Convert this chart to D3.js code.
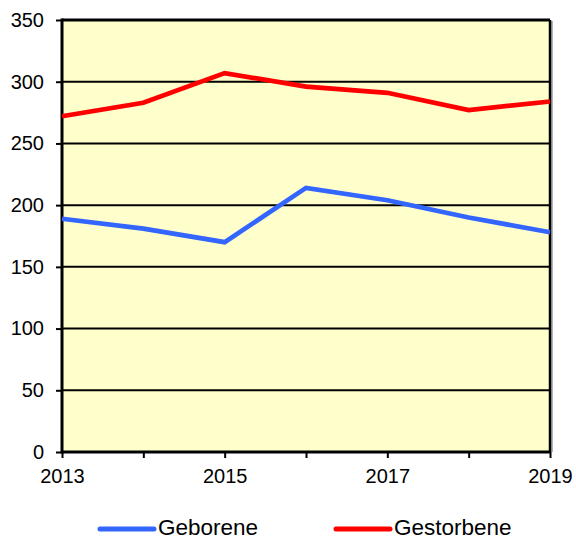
<!DOCTYPE html>
<html>
<head>
<meta charset="utf-8">
<script src="https://cdn.jsdelivr.net/npm/d3@7"></script>
<style>
  body { margin: 0; background: #fff; }
  svg { display: block; font-family: 'Liberation Sans', Arial, sans-serif; }
</style>
</head>
<body>
<div id="chart"></div>
<script>
const years = [2013, 2014, 2015, 2016, 2017, 2018, 2019]
const geborene = [189, 181, 170, 214, 204, 190, 178]
const gestorbene = [272, 283, 307, 296, 291, 277, 284]
const yTicks = [0, 50, 100, 150, 200, 250, 300, 350]
const xLabels = [2013, 2015, 2017, 2019]

const MARGIN = { TOP: 20, BOTTOM: 88, LEFT: 62, RIGHT: 26 }
const W = 576, H = 540
const WIDTH = W - MARGIN.LEFT - MARGIN.RIGHT
const HEIGHT = H - MARGIN.TOP - MARGIN.BOTTOM

const series = [
    { name: 'Geborene', values: geborene, color: '#3366ff' },
    { name: 'Gestorbene', values: gestorbene, color: '#ff0000' },
]

const svg = d3.select('#chart').append('svg')
    .attr('width', W)
    .attr('height', H)

const g = svg.append('g')
    .attr('transform', `translate(${MARGIN.LEFT}, ${MARGIN.TOP})`)

const x = d3.scaleLinear().domain([2013, 2019]).range([0, WIDTH])
const y = d3.scaleLinear().domain([0, 350]).range([HEIGHT, 0])

// plot background
g.append('rect')
    .attr('width', WIDTH)
    .attr('height', HEIGHT)
    .attr('fill', '#ffffcc')

// right edge shadow
g.append('line')
    .attr('x1', WIDTH + 2).attr('x2', WIDTH + 2)
    .attr('y1', 1).attr('y2', HEIGHT)
    .attr('stroke', '#999').attr('stroke-width', 1.5)

// horizontal gridlines
g.append('g')
    .selectAll('line')
    .data(yTicks.filter(d => d > 0))
    .enter().append('line')
    .attr('x1', 0).attr('x2', WIDTH)
    .attr('y1', d => y(d)).attr('y2', d => y(d))
    .attr('stroke', '#000')
    .attr('stroke-width', d => d === 350 ? 3 : 2)

// right border
g.append('line')
    .attr('x1', WIDTH).attr('x2', WIDTH)
    .attr('y1', 0).attr('y2', HEIGHT)
    .attr('stroke', '#000').attr('stroke-width', 2.5)

// axes
const yAxis = g.append('g')
    .call(d3.axisLeft(y).tickValues(yTicks).tickSize(6).tickPadding(12))
const xAxis = g.append('g')
    .attr('transform', `translate(0, ${HEIGHT})`)
    .call(d3.axisBottom(x).tickValues(years).tickSize(6).tickPadding(11)
        .tickFormat(d => xLabels.includes(d) ? d : ''))

for (const ax of [yAxis, xAxis]) {
    ax.select('.domain').remove()
    ax.selectAll('line').attr('stroke', '#000').attr('stroke-width', 2)
    ax.selectAll('text').attr('fill', '#000').attr('font-size', 20)
        .attr('font-family', "'Liberation Sans', Arial, sans-serif")
}

g.append('line')
    .attr('x1', 0).attr('x2', 0).attr('y1', -1.5).attr('y2', HEIGHT + 1.5)
    .attr('stroke', '#000').attr('stroke-width', 3)
g.append('line')
    .attr('x1', 0).attr('x2', WIDTH + 1).attr('y1', HEIGHT).attr('y2', HEIGHT)
    .attr('stroke', '#000').attr('stroke-width', 3)

// lines
const line = d3.line()
    .x((d, i) => x(years[i]))
    .y(d => y(d))

g.selectAll('.series')
    .data(series)
    .enter().append('path')
    .attr('class', 'series')
    .attr('d', d => line(d.values))
    .attr('fill', 'none')
    .attr('stroke', d => d.color)
    .attr('stroke-width', 4.7)
    .attr('stroke-linejoin', 'miter')

// legend
const legendX = [100, 336]
const legend = svg.append('g')
series.forEach((s, i) => {
    legend.append('line')
        .attr('x1', legendX[i]).attr('x2', legendX[i] + 54)
        .attr('y1', 529).attr('y2', 529)
        .attr('stroke', s.color)
        .attr('stroke-width', 5)
        .attr('stroke-linecap', 'round')
    legend.append('text')
        .attr('x', legendX[i] + 58)
        .attr('y', 535)
        .attr('font-size', 22.5)
        .attr('fill', '#000')
        .text(s.name)
})
</script>
</body>
</html>
